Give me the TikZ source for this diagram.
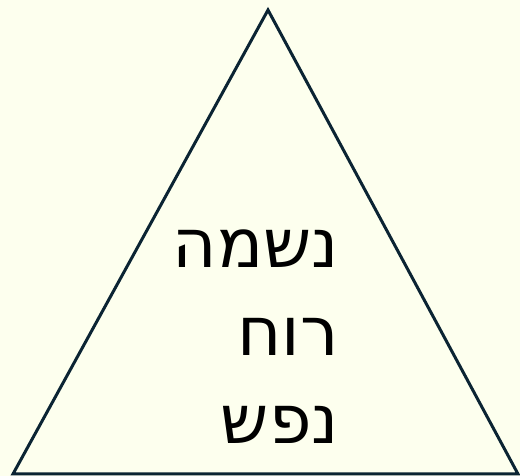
\documentclass[tikz,border=0pt]{standalone}
\usepackage{fontspec}
\TeXXeTstate=1
\newfontfamily\hebfont[Script=Hebrew]{DejaVu Sans}
\definecolor{bgc}{HTML}{FDFFEE}
\definecolor{linec}{HTML}{0B2433}
\tikzset{heb/.style={anchor=base east, inner sep=0pt, font=\hebfont\fontsize{68}{68}\selectfont}}
\begin{document}
\begin{tikzpicture}[x=1pt,y=1pt]
\fill[bgc] (0,0) rectangle (520,476);
\useasboundingbox (0,0) rectangle (520,476);
\coordinate (A) at (268,466);
\coordinate (B) at (13,2);
\coordinate (C) at (518,2);
\draw[linec, line width=3pt, line join=miter] (A) -- (B) -- (C) -- cycle;
\node[heb] (t1) at (339,208) {\beginR נשמה\endR};
\node[heb] (t2) at (339,120) {\beginR רוח\endR};
\node[heb] (t3) at (339,32) {\beginR נפש\endR};
\end{tikzpicture}
\end{document}
